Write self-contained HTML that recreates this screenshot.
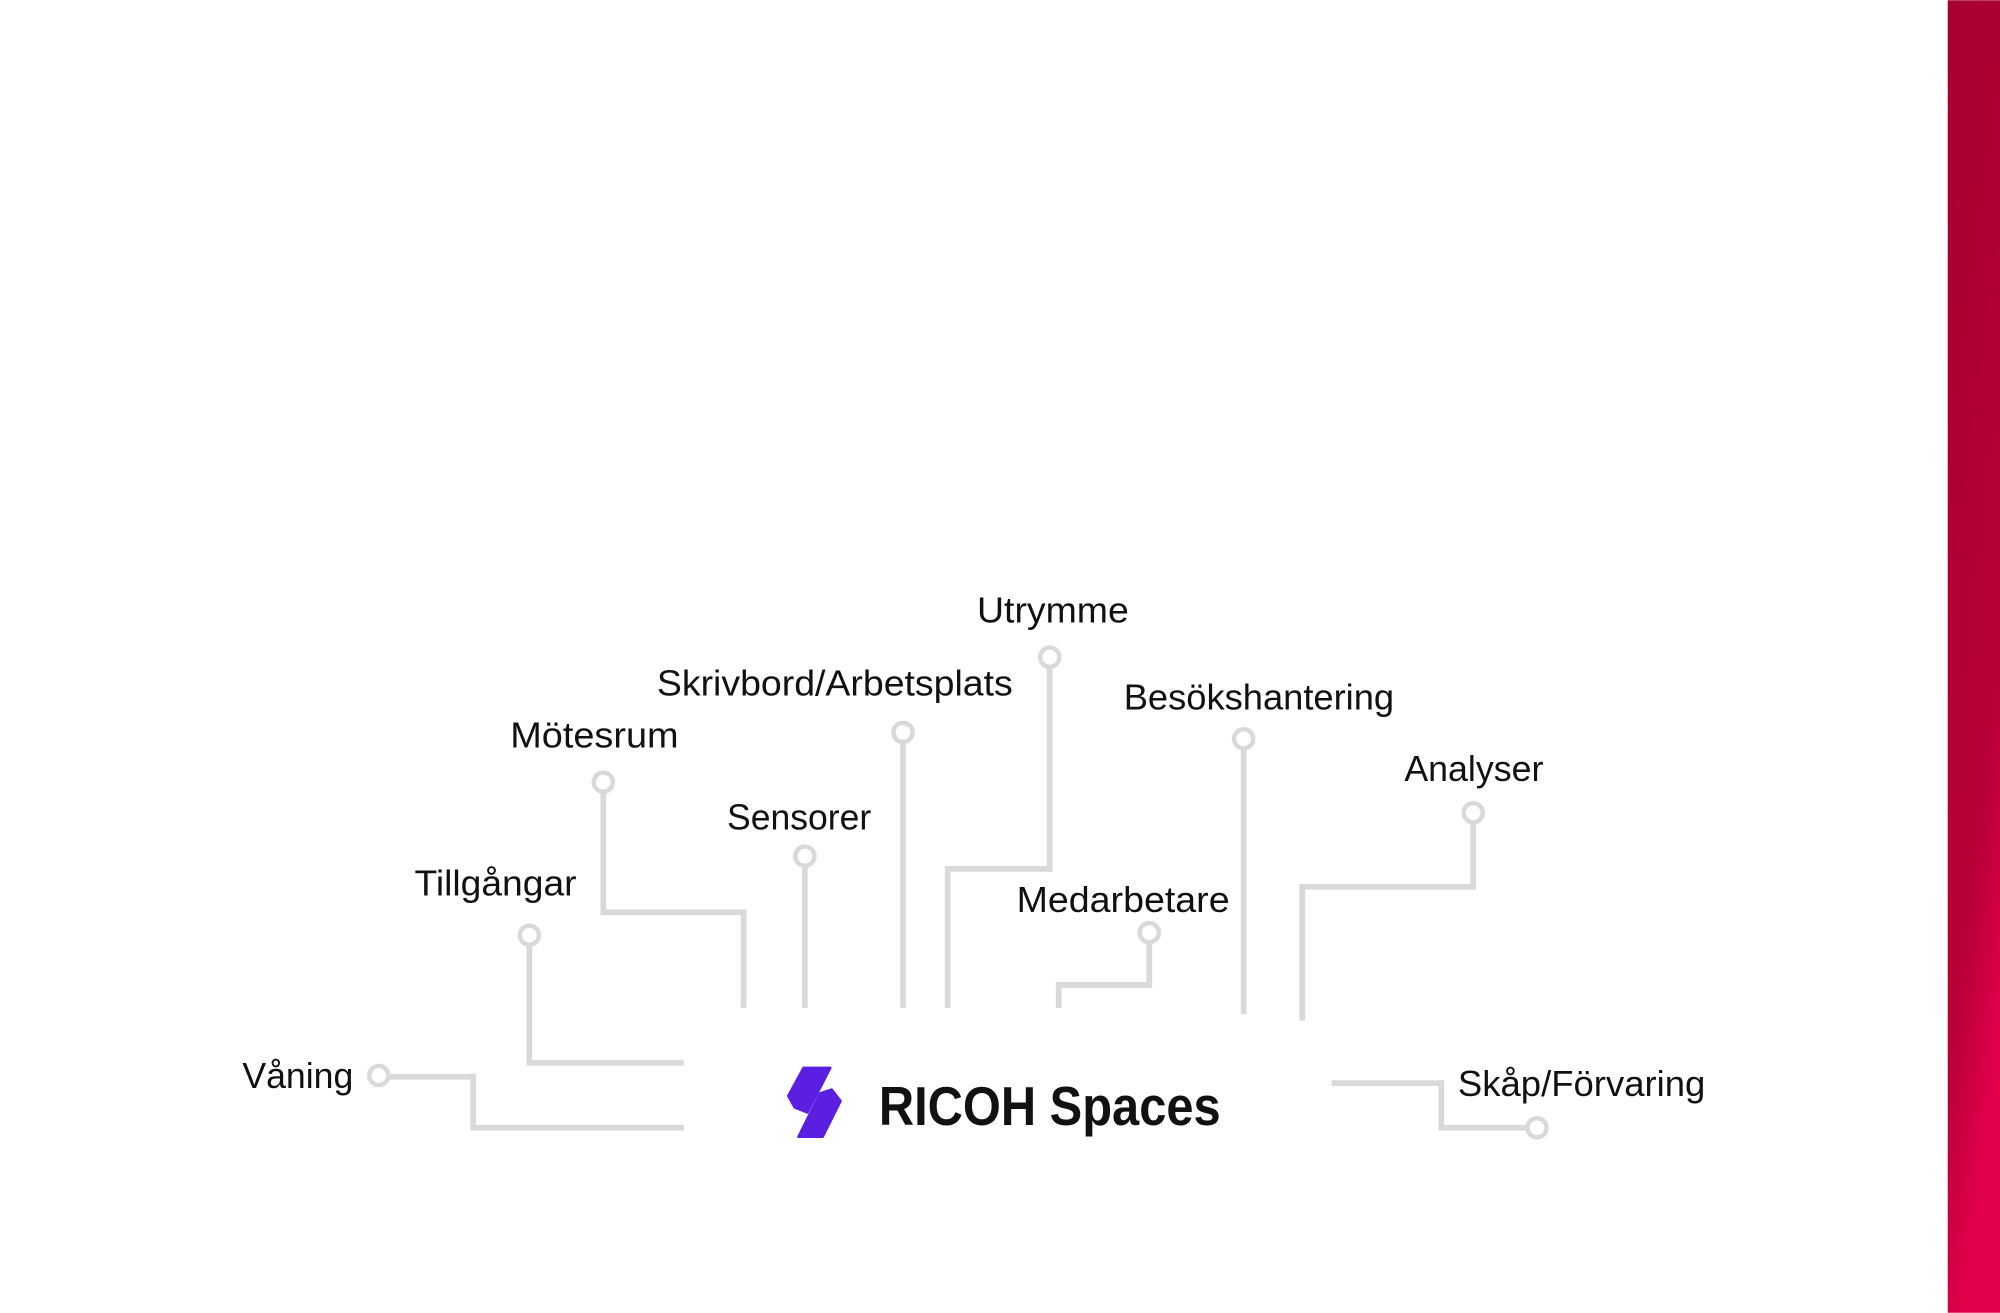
<!DOCTYPE html>
<html><head><meta charset="utf-8"><style>
html,body{margin:0;padding:0;background:#fff;}
svg{display:block;}
text{font-family:"Liberation Sans","DejaVu Sans",sans-serif;fill:#111;font-size:28px;}
</style></head><body>
<svg width="2000" height="1313" viewBox="0 0 1568 1029" xmlns="http://www.w3.org/2000/svg">
<defs><linearGradient id="r" x1="0" y1="0" x2="0.3" y2="1">
<stop offset="0" stop-color="#a50030"/><stop offset="0.75" stop-color="#b80036"/><stop offset="1" stop-color="#e2004c"/></linearGradient></defs>
<rect x="0" y="0" width="1568" height="1029" fill="#fff"/>
<rect x="1527" y="0" width="41" height="1029" fill="url(#r)"/>
<g fill="none" stroke="#d9d9d9" stroke-width="4.5">
<polyline points="305,844 371,844 371,884 536,884"/>
<polyline points="415,741 415,833 536,833"/>
<polyline points="473,621 473,715 583,715 583,790"/>
<polyline points="631,679 631,790"/>
<polyline points="708,582 708,790"/>
<polyline points="823,523 823,681 743,681 743,790"/>
<polyline points="901,739 901,772 830,772 830,790"/>
<polyline points="975,587 975,795"/>
<polyline points="1155,645 1155,695 1021,695 1021,800"/>
<polyline points="1044,849 1130,849 1130,884 1197,884"/>
<g stroke-width="3.5">
<circle cx="297" cy="843" r="7.5"/><circle cx="415" cy="733" r="7.5"/><circle cx="473" cy="613" r="7.5"/>
<circle cx="631" cy="671" r="7.5"/><circle cx="708" cy="574" r="7.5"/><circle cx="823" cy="515" r="7.5"/>
<circle cx="901" cy="731" r="7.5"/><circle cx="975" cy="579" r="7.5"/><circle cx="1155" cy="637" r="7.5"/>
<circle cx="1205" cy="884" r="7.5"/></g>
</g>
<text x="190" y="853" textLength="87" lengthAdjust="spacingAndGlyphs">Våning</text>
<text x="325" y="702" textLength="127" lengthAdjust="spacingAndGlyphs">Tillgångar</text>
<text x="400" y="586" textLength="132" lengthAdjust="spacingAndGlyphs">Mötesrum</text>
<text x="570" y="650" textLength="113" lengthAdjust="spacingAndGlyphs">Sensorer</text>
<text x="515" y="545" textLength="279" lengthAdjust="spacingAndGlyphs">Skrivbord/Arbetsplats</text>
<text x="766" y="488" textLength="119" lengthAdjust="spacingAndGlyphs">Utrymme</text>
<text x="797" y="715" textLength="167" lengthAdjust="spacingAndGlyphs">Medarbetare</text>
<text x="881" y="556" textLength="212" lengthAdjust="spacingAndGlyphs">Besökshantering</text>
<text x="1101" y="612" textLength="109" lengthAdjust="spacingAndGlyphs">Analyser</text>
<text x="1143" y="859" textLength="194" lengthAdjust="spacingAndGlyphs">Skåp/Förvaring</text>
<g fill="#5a1fe0" stroke="#5a1fe0" stroke-width="2" stroke-linejoin="round">
<polygon points="630,837 651,837 633,872 623,868 618,859"/>
<polygon points="659,863 645,891 626,891 643,857 652,854"/>
</g>
<text x="689" y="882" textLength="268" lengthAdjust="spacingAndGlyphs" style="font-size:43px;font-weight:bold;fill:#111">RICOH Spaces</text>
</svg>
</body></html>
